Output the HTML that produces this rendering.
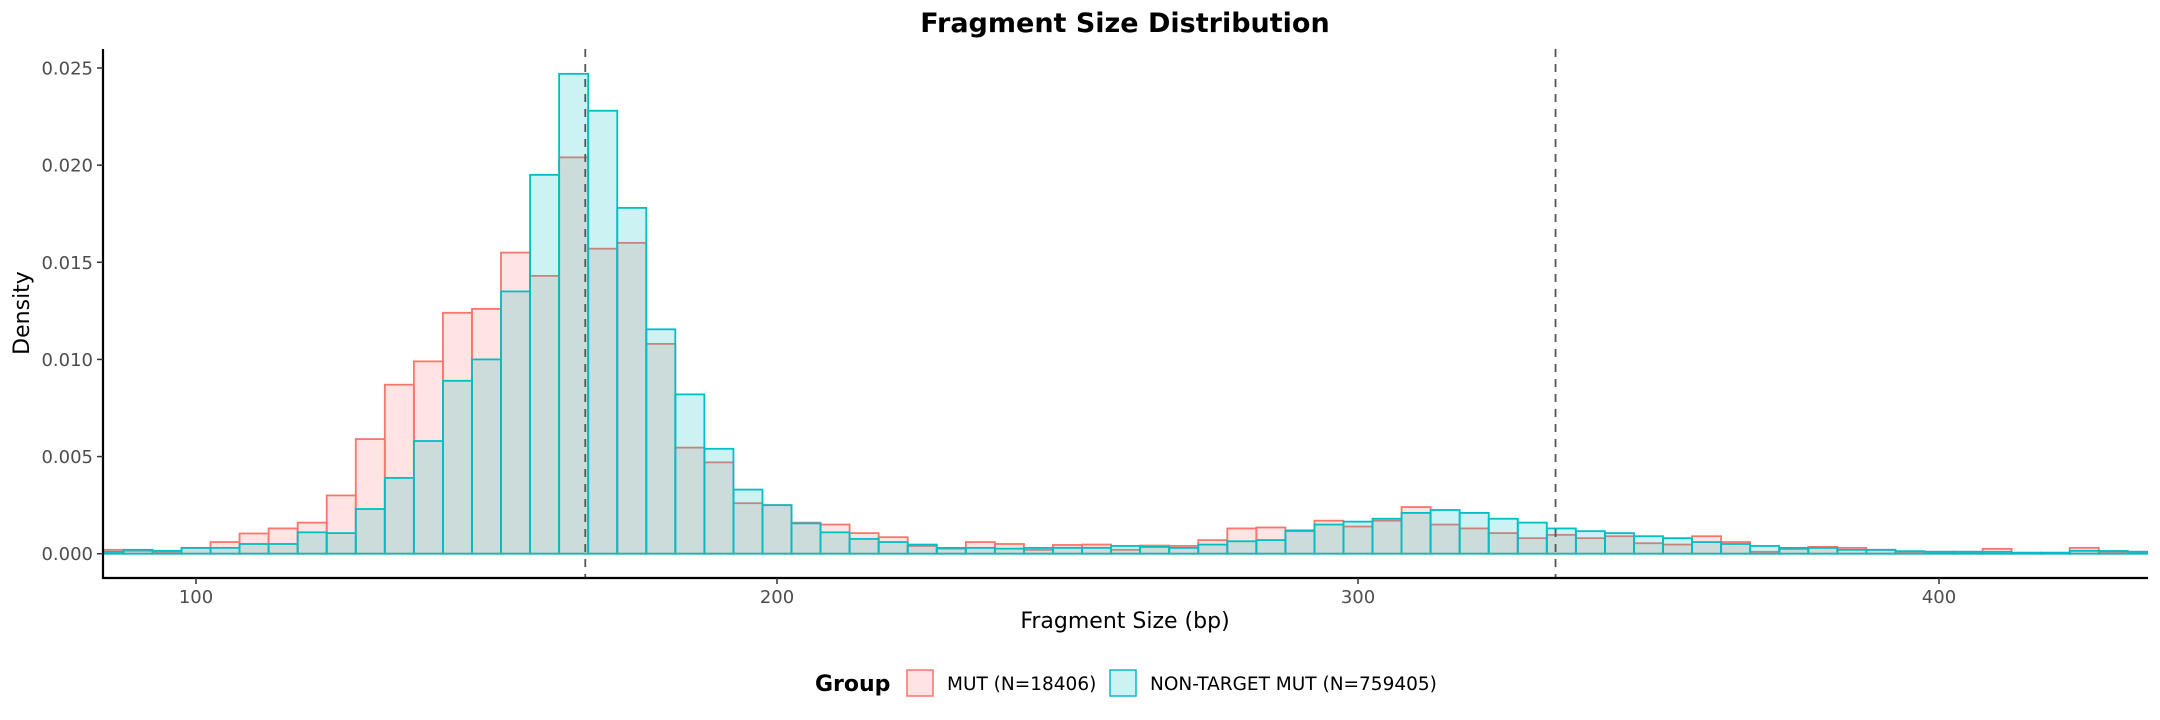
<!DOCTYPE html>
<html><head><meta charset="utf-8"><style>
html,body{margin:0;padding:0;background:#fff;}
svg{display:block;font-family:"DejaVu Sans","Liberation Sans",sans-serif;}
</style></head><body>
<svg id="chart" width="2160" height="720" viewBox="0 0 2160 720">
<text x="1125" y="32" text-anchor="middle" font-size="27" font-weight="bold" fill="#000">Fragment Size Distribution</text>
<g id="plot"></g>
<text transform="translate(29,313) rotate(-90)" text-anchor="middle" font-size="22" fill="#000">Density</text>
<text x="1125" y="628" text-anchor="middle" font-size="22" fill="#000">Fragment Size (bp)</text>
<g>
<text x="815" y="691" font-size="22" font-weight="bold" fill="#000">Group</text>
<rect x="907" y="670" width="26" height="26" fill="rgba(248,118,109,0.2)" stroke="#F8766D" stroke-width="1.5"/>
<text x="947" y="690" font-size="18.5" fill="#000">MUT (N=18406)</text>
<rect x="1110" y="670" width="26" height="26" fill="rgba(0,191,196,0.2)" stroke="#00BFC4" stroke-width="1.5"/>
<text x="1150" y="690" font-size="18.5" fill="#000">NON-TARGET MUT (N=759405)</text>
</g>
</svg>
<script>
const binCenters = [85,90,95,100,105,110,115,120,125,130,135,140,145,150,155,160,165,170,175,180,185,190,195,200,205,210,215,220,225,230,235,240,245,250,255,260,265,270,275,280,285,290,295,300,305,310,315,320,325,330,335,340,345,350,355,360,365,370,375,380,385,390,395,400,405,410,415,420,425,430,435];
const mutValues = [0.0002,0.00015,0.0001,0.0003,0.0006,0.00104,0.0013,0.0016,0.003,0.0059,0.0087,0.0099,0.0124,0.0126,0.0155,0.0143,0.0204,0.0157,0.016,0.0108,0.00546,0.0047,0.0026,0.0025,0.0016,0.0015,0.00106,0.00085,0.0004,0.00026,0.0006,0.0005,0.0002,0.00045,0.00047,0.0002,0.00042,0.0004,0.0007,0.0013,0.00135,0.00116,0.0017,0.0014,0.0017,0.0024,0.0015,0.0013,0.00106,0.0008,0.00097,0.0008,0.0009,0.00054,0.00047,0.0009,0.0006,0.0001,0.00024,0.00035,0.0003,0.0002,0.0001,0.0001,0.0001,0.00025,0.00005,0.00005,0.0003,0.0001,0.0001];
const nonTargetValues = [0.0001,0.0002,0.00015,0.0003,0.0003,0.0005,0.0005,0.0011,0.00106,0.0023,0.0039,0.0058,0.0089,0.01,0.0135,0.0195,0.0247,0.0228,0.0178,0.01155,0.0082,0.0054,0.0033,0.0025,0.00156,0.0011,0.00076,0.0006,0.00047,0.0003,0.0003,0.00026,0.0003,0.0003,0.0003,0.0004,0.00035,0.0003,0.00047,0.00064,0.0007,0.0012,0.0015,0.00165,0.0018,0.0021,0.00225,0.0021,0.0018,0.0016,0.0013,0.00116,0.00106,0.0009,0.0008,0.0006,0.0005,0.0004,0.0003,0.0003,0.0002,0.0002,0.00013,0.0001,0.0001,0.0001,0.00005,0.00005,0.00015,0.00014,0.0001];
const binWidth = 5;
const xTicks = [100,200,300,400];
const yTicks = [0,0.005,0.01,0.015,0.02,0.025];
const yTickLabels = ["0.000","0.005","0.010","0.015","0.020","0.025"];
const vLines = [167,334];

const NS = "http://www.w3.org/2000/svg";
const plot = document.getElementById('plot');
const xMin = 84, xMax = 435.9, left = 103, right = 2148;
const X = v => 196 + (v - 100) * 5.81;
const Y = d => 553.7 - d * 19428;
function mk(tag, attrs){const e=document.createElementNS(NS,tag);for(const k in attrs)e.setAttribute(k,attrs[k]);return e;}

const clip = mk('clipPath',{id:'pc'});
clip.appendChild(mk('rect',{x:left,y:40,width:right-left,height:540}));
plot.appendChild(clip);
const bars = mk('g',{'clip-path':'url(#pc)'});
plot.appendChild(bars);

function drawSeries(vals, fill, stroke, name){
  binCenters.forEach((c,i)=>{
    const x0 = X(c - binWidth/2), x1 = X(c + binWidth/2);
    const y = Y(vals[i]), y0 = Y(0);
    const r = mk('rect',{x:x0,y:y,width:x1-x0,height:Math.max(y0-y,0.01),fill:fill,stroke:stroke,'stroke-width':1.8});
    
    
    bars.appendChild(r);
  });
}
drawSeries(mutValues,'rgba(248,118,109,0.2)','#F8766D','mut');
drawSeries(nonTargetValues,'rgba(0,191,196,0.2)','#00BFC4','nontarget');

vLines.forEach(v=>{
  const l = mk('line',{x1:X(v),x2:X(v),y1:49,y2:578,stroke:'#555','stroke-width':1.8,'stroke-dasharray':'8,7'});
  
  
  plot.appendChild(l);
});

// axes
const ya = mk('line',{x1:left,x2:left,y1:49,y2:579,stroke:'#000','stroke-width':2.2});


plot.appendChild(ya);
const xa = mk('line',{x1:left-1,x2:right,y1:578,y2:578,stroke:'#000','stroke-width':2.2});


plot.appendChild(xa);

yTicks.forEach((t,i)=>{
  const y = Y(t);
  const tk = mk('line',{x1:left-6,x2:left,y1:y,y2:y,stroke:'#333','stroke-width':1.5});
  
  
  plot.appendChild(tk);
  const tx = mk('text',{x:left-10,y:y+6.5,'text-anchor':'end','font-size':18,fill:'#4d4d4d'});
  tx.textContent = yTickLabels[i];
  
  
  plot.appendChild(tx);
});
xTicks.forEach(t=>{
  const x = X(t);
  const tk = mk('line',{x1:x,x2:x,y1:578,y2:584,stroke:'#333','stroke-width':1.5});
  
  
  plot.appendChild(tk);
  const tx = mk('text',{x:x,y:603,'text-anchor':'middle','font-size':18,fill:'#4d4d4d'});
  tx.textContent = String(t);
  
  
  plot.appendChild(tx);
});
</script>
</body></html>
